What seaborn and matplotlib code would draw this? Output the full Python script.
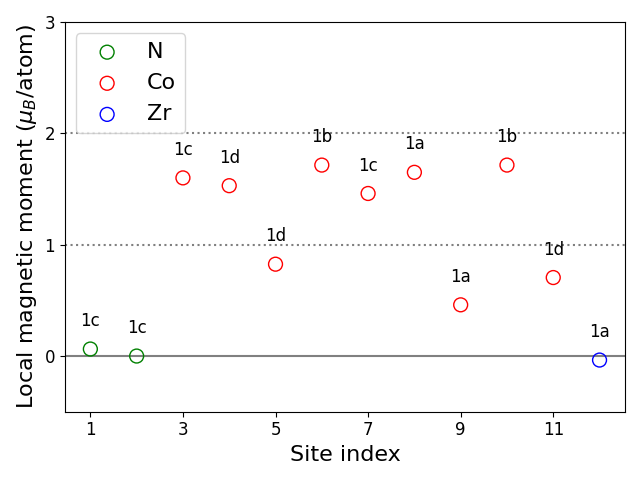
import matplotlib
matplotlib.use("Agg")
import matplotlib.pyplot as plt
import seaborn as sns
import pandas as pd

site_index = [1, 2, 3, 4, 5, 6, 7, 8, 9, 10, 11, 12]
moments = [0.063, 0.0, 1.60, 1.53, 0.825, 1.715, 1.46, 1.65, 0.46, 1.715, 0.705, -0.036]
elements = ["N", "N", "Co", "Co", "Co", "Co", "Co", "Co", "Co", "Co", "Co", "Zr"]
wyckoff = ["1c", "1c", "1c", "1d", "1d", "1b", "1c", "1a", "1a", "1b", "1d", "1a"]
element_order = ["N", "Co", "Zr"]
colors = {"N": "green", "Co": "red", "Zr": "blue"}

df = pd.DataFrame({"site": site_index, "moment": moments, "element": elements, "label": wyckoff})

fig, ax = plt.subplots(figsize=(6.4, 4.8), dpi=100)

ax.axhline(0, color="gray", lw=1.5, zorder=1)
ax.axhline(1, color="gray", lw=1.5, ls=":", zorder=1)
ax.axhline(2, color="gray", lw=1.5, ls=":", zorder=1)

for el in element_order:
    sub = df[df["element"] == el]
    sns.scatterplot(data=sub, x="site", y="moment", ax=ax, s=100,
                    color=colors[el], facecolors="none", edgecolor=colors[el],
                    linewidth=1, label=el, zorder=3)

for _, r in df.iterrows():
    ax.text(r["site"], r["moment"] + 0.25, r["label"], ha="center", va="center", fontsize=12)

ax.set_ylim(-0.5, 3)
ax.set_xticks([1, 3, 5, 7, 9, 11])
ax.set_yticks([0, 1, 2, 3])
ax.tick_params(labelsize=12)
ax.set_xlabel("Site index", fontsize=16)
ax.set_ylabel(r"Local magnetic moment ($\mu_B$/atom)", fontsize=16)
ax.legend(loc="upper left", fontsize=16)
fig.tight_layout()
fig.savefig("out.png", dpi=100)
